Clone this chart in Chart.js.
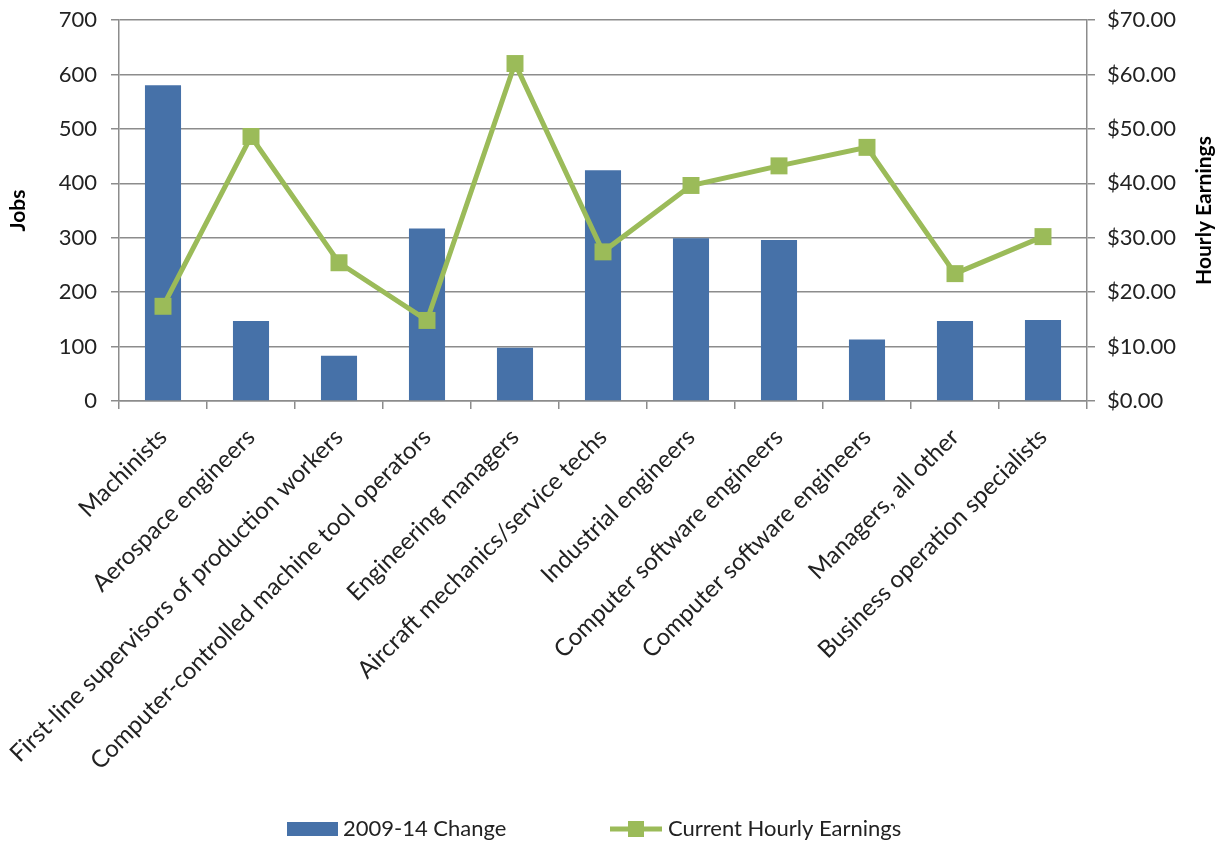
<!DOCTYPE html>
<html>
<head>
<meta charset="utf-8">
<script src="https://cdn.jsdelivr.net/npm/chart.js@4"></script>
<style>
  html, body { margin: 0; padding: 0; background: #fff; }
  #wrap { width: 1225px; height: 841px; }
</style>
</head>
<body>
<div id="wrap"><canvas id="chart" width="1225" height="841"></canvas></div>
<script>
// occupations
var categories = [
  "Machinists",
  "Aerospace engineers",
  "First-line supervisors of production workers",
  "Computer-controlled machine tool operators",
  "Engineering managers",
  "Aircraft mechanics/service techs",
  "Industrial engineers",
  "Computer software engineers",
  "Computer software engineers",
  "Managers, all other",
  "Business operation specialists"
];
// jobs change 2009-14
var jobsChange = [580, 147, 83, 317, 98, 424, 299, 296, 113, 147, 149];
// current hourly earnings ($)
var hourlyEarnings = [17.4, 48.6, 25.4, 14.8, 62.0, 27.4, 39.6, 43.2, 46.6, 23.4, 30.2];

var jobsTicks = [0, 100, 200, 300, 400, 500, 600, 700];
var earningsTicks = [0, 10, 20, 30, 40, 50, 60, 70];

var FONT = "Lato, 'Open Sans', sans-serif";
var BLUE = "#4671a8";
var GREEN = "#9bbb59";
var GRID = "#8c8c8c";

// legend at the bottom + right axis title reading upwards, like the original
var extras = {
  id: 'extras',
  afterDraw: function(chart) {
    var ctx = chart.ctx;
    var ds = chart.data.datasets;
    var area = chart.chartArea;
    var y = 829;
    ctx.save();
    ctx.font = "22px " + FONT;
    ctx.textBaseline = "middle";
    // bar item
    ctx.fillStyle = ds[0].backgroundColor;
    ctx.fillRect(287, y - 7, 51, 14);
    ctx.fillStyle = "#222";
    ctx.fillText(ds[0].label, 343, y);
    // line item
    ctx.strokeStyle = ds[1].borderColor;
    ctx.lineWidth = 5;
    ctx.beginPath();
    ctx.moveTo(610, y);
    ctx.lineTo(662, y);
    ctx.stroke();
    ctx.fillStyle = ds[1].borderColor;
    ctx.fillRect(628, y - 8, 16, 16);
    ctx.fillStyle = "#222";
    ctx.fillText(ds[1].label, 668, y);

    // right title
    ctx.translate(1204, (area.top + area.bottom) / 2);
    ctx.rotate(-Math.PI / 2);
    ctx.font = "bold 21px " + FONT;
    ctx.textAlign = "center";
    ctx.fillStyle = "#000";
    ctx.fillText("Hourly Earnings", 0, 0);
    ctx.restore();
  }
};

var config = {
  type: 'bar',
  data: {
    labels: categories,
    datasets: [
      {
        type: 'bar',
        label: '2009-14 Change',
        data: jobsChange,
        backgroundColor: BLUE,
        yAxisID: 'y',
        categoryPercentage: 1.0,
        barPercentage: 0.41,
        order: 2
      },
      {
        type: 'line',
        label: 'Current Hourly Earnings',
        data: hourlyEarnings,
        borderColor: GREEN,
        backgroundColor: GREEN,
        borderWidth: 5,
        pointStyle: 'rect',
        pointRadius: 12,
        pointHoverRadius: 12,
        pointBorderWidth: 0,
        tension: 0,
        yAxisID: 'y1',
        order: 1
      }
    ]
  },
  options: {
    responsive: false,
    animation: false,
    layout: { padding: { top: 20, left: 6, right: 0, bottom: 0 } },
    plugins: {
      legend: { display: false },
      tooltip: { enabled: false }
    },
    scales: {
      x: {
        offset: true,
        grid: {
          offset: true,
          drawOnChartArea: false,
          drawTicks: true,
          tickLength: 8,
          color: GRID,
          lineWidth: 1.5
        },
        border: { color: GRID, width: 1.5 },
        ticks: {
          autoSkip: false,
          maxRotation: 45,
          minRotation: 45,
          color: "#222",
          padding: 14,
          font: { family: FONT, size: 24 }
        },
        afterFit: function(scale) { scale.height = 440; }
      },
      y: {
        position: 'left',
        min: 0,
        max: 700,
        afterBuildTicks: function(scale) {
          scale.ticks = jobsTicks.map(function(v) { return { value: v }; });
        },
        grid: {
          color: GRID,
          lineWidth: 1.5,
          tickLength: 8
        },
        border: { color: GRID, width: 1.5 },
        ticks: {
          color: "#222",
          padding: 14,
          font: { family: FONT, size: 22 }
        },
        title: {
          display: true,
          text: 'Jobs',
          color: "#000",
          font: { family: FONT, size: 21, weight: 'bold' },
          padding: { top: 0, bottom: 0 }
        },
        afterFit: function(scale) {
          scale.width = 113;
          scale.paddingTop = 0;
          scale.paddingBottom = 0;
        }
      },
      y1: {
        position: 'right',
        min: 0,
        max: 70,
        afterBuildTicks: function(scale) {
          scale.ticks = earningsTicks.map(function(v) { return { value: v }; });
        },
        grid: {
          drawOnChartArea: false,
          color: GRID,
          lineWidth: 1.5,
          tickLength: 8
        },
        border: { color: GRID, width: 1.5 },
        ticks: {
          color: "#222",
          padding: 12,
          font: { family: FONT, size: 22 },
          callback: function(v) { return '$' + Number(v).toFixed(2); }
        },
        afterFit: function(scale) {
          scale.width = 138;
          scale.paddingTop = 0;
          scale.paddingBottom = 0;
        }
      }
    }
  },
  plugins: [extras]
};

var ctx = document.getElementById('chart').getContext('2d');
window.myChart = new Chart(ctx, config);
</script>
</body>
</html>
